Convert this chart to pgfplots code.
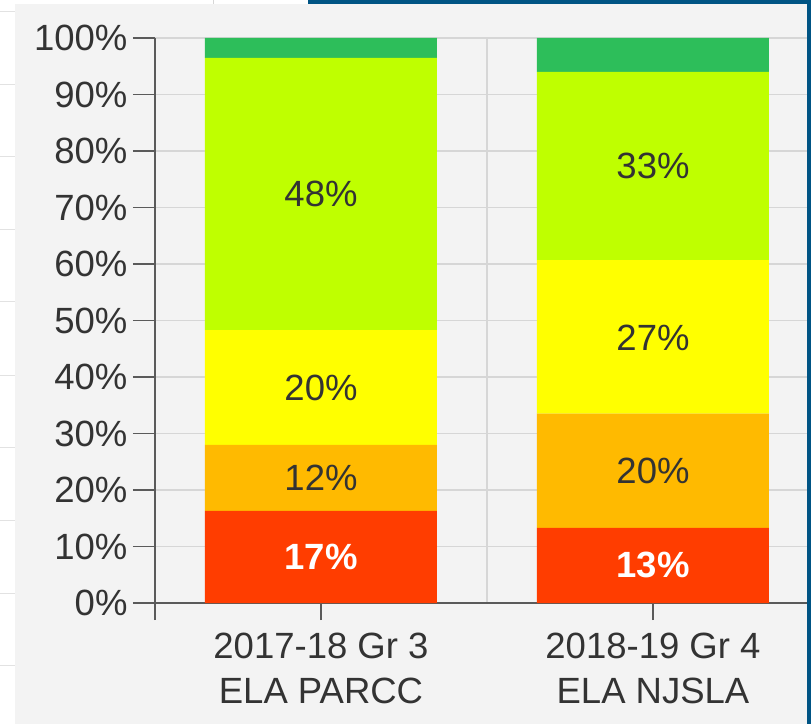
\documentclass[border=0pt]{standalone}
\usepackage{pgfplots}
\pgfplotsset{compat=1.18}
\usepackage{pgfplotstable}
\usepackage{fontspec}
\setmainfont{Liberation Sans}
\definecolor{panelgray}{HTML}{F3F3F3}
\definecolor{gridgray}{HTML}{D6D6D6}
\definecolor{axisgray}{HTML}{5A5A5A}
\definecolor{labelgray}{HTML}{333333}
\definecolor{edgeblue}{HTML}{005484}
\definecolor{cRed}{HTML}{FF3D00}
\definecolor{cOrange}{HTML}{FFBA00}
\definecolor{cYellow}{HTML}{FFFF00}
\definecolor{cLime}{HTML}{BFFF00}
\definecolor{cGreen}{HTML}{2DBE5A}
\newcommand{\bigfont}{\fontsize{36.5}{45}\selectfont}

\pgfplotstableread{
x red orange yellow lime green
0 16.3 11.7 20.3 48.2 3.5
1 13.3 20.2 27.2 33.3 6.0
}\stackdata

\pgfplotstableread{
x y lab
0 8.15 17
1 6.65 13
}\redlabels

\pgfplotstableread{
x y lab
0 22.15 12
0 38.15 20
0 72.35 48
1 23.4 20
1 46.95 27
1 77.3 33
}\otherlabels

\begin{document}
\begin{tikzpicture}
\path[use as bounding box] (0,0) rectangle (811pt,724pt);
\fill[white] (0,0) rectangle (811pt,724pt);
\fill[panelgray] (15pt,0) rectangle (811pt,720pt);
\foreach \yy in {712,639,567,494,422,349,277,204,131,59}
  \draw[gridgray!70, line width=1pt] (0,\yy pt) -- (15pt,\yy pt);
\draw[gridgray, line width=1pt] (213pt,720pt) -- (213pt,724pt);
\begin{axis}[
  at={(155pt,121pt)}, anchor=south west, scale only axis,
  width=656pt, height=565pt,
  xmin=-0.5, xmax=1.476, ymin=0, ymax=100,
  ybar stacked, bar width=232pt,
  axis x line=bottom, axis y line=left,
  axis line style={-, draw=axisgray, line width=1.5pt},
  y axis line style={shorten <=-17pt},
  xtick={0,1},
  xticklabels={{2017-18 Gr 3\\ELA PARCC},{2018-19 Gr 4\\ELA NJSLA}},
  xticklabel style={align=center, font=\bigfont, text=labelgray, yshift=-4pt},
  ytick={0,10,...,100},
  yticklabel={\pgfmathprintnumber{\tick}\%},
  yticklabel style={font=\bigfont, text=labelgray, xshift=-2pt},
  tick align=outside, major tick length=22pt,
  xtick style={/pgfplots/major tick length=17pt},
  tick style={draw=axisgray, line width=1.5pt},
  ymajorgrids, major grid style={draw=gridgray, line width=1.5pt},
  minor xtick={0.5,1.5}, xminorgrids,
  minor grid style={draw=gridgray, line width=1.5pt}, minor tick length=0pt,
  /pgf/number format/assume math mode=true,
]
\addplot[fill=cRed, draw=none] table[x=x, y=red] {\stackdata};
\addplot[fill=cOrange, draw=none] table[x=x, y=orange] {\stackdata};
\addplot[fill=cYellow, draw=none] table[x=x, y=yellow] {\stackdata};
\addplot[fill=cLime, draw=none] table[x=x, y=lime] {\stackdata};
\addplot[fill=cGreen, draw=none] table[x=x, y=green] {\stackdata};
\end{axis}
\begin{axis}[
  at={(155pt,121pt)}, anchor=south west, scale only axis,
  width=656pt, height=565pt,
  xmin=-0.5, xmax=1.476, ymin=0, ymax=100,
  hide axis, clip=false,
  /pgf/number format/assume math mode=true,
]
\addplot[draw=none, mark=none, nodes near coords={\pgfmathprintnumber[fixed,precision=0]{\pgfplotspointmeta}\%},
  point meta=explicit,
  every node near coord/.append style={anchor=center, font=\bigfont\bfseries, text=white}]
  table[x=x, y=y, meta=lab] {\redlabels};
\addplot[draw=none, mark=none, nodes near coords={\pgfmathprintnumber[fixed,precision=0]{\pgfplotspointmeta}\%},
  point meta=explicit,
  every node near coord/.append style={anchor=center, font=\bigfont, text=labelgray}]
  table[x=x, y=y, meta=lab] {\otherlabels};
\end{axis}
\fill[edgeblue] (308pt,720pt) rectangle (811pt,724pt);
\fill[edgeblue] (807pt,0) rectangle (811pt,724pt);
\end{tikzpicture}
\end{document}
